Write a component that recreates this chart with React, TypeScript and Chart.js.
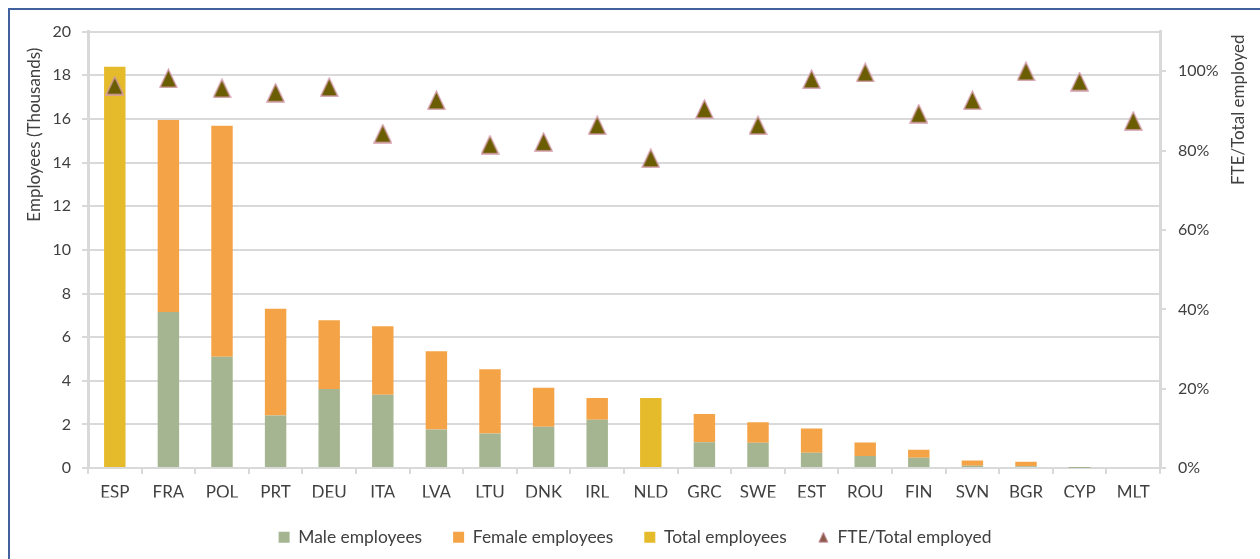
import React, { useEffect, useRef } from "react";
import { Chart, registerables } from "chart.js";
Chart.register(...registerables);

const categories = ["ESP", "FRA", "POL", "PRT", "DEU", "ITA", "LVA", "LTU", "DNK", "IRL", "NLD", "GRC", "SWE", "EST", "ROU", "FIN", "SVN", "BGR", "CYP", "MLT"];
const maleEmployees = [null, 7.15, 5.1, 2.41, 3.63, 3.36, 1.77, 1.58, 1.9, 2.22, null, 1.19, 1.16, 0.7, 0.56, 0.47, 0.11, 0.09, 0.01, 0];
const femaleEmployees = [null, 8.8, 10.59, 4.89, 3.15, 3.14, 3.58, 2.95, 1.78, 0.99, null, 1.29, 0.94, 1.11, 0.61, 0.37, 0.24, 0.2, 0.04, 0];
const totalEmployees = [18.39, null, null, null, null, null, null, null, null, null, 3.21, null, null, null, null, null, null, null, null, null];
const fteRatio = [96.4, 98.2, 95.7, 94.6, 96.0, 84.3, 92.7, 81.5, 82.2, 86.4, 78.1, 90.5, 86.4, 98.0, 99.7, 89.3, 92.7, 100, 97.4, 87.5];
const seriesLabels = ["Male employees", "Female employees", "Total employees", "FTE/Total employed"];
const leftTitle = "Employees (Thousands)";
const rightTitle = "FTE/Total employed";

const TEXT = "#404040";
const GRID = "#d9d9d9";

function makeTriangle(w: number, h: number, fill: string, stroke: string, lw: number) {
  const c = document.createElement("canvas");
  c.width = Math.ceil(w + 2);
  c.height = Math.ceil(h + 2);
  const ctx = c.getContext("2d")!;
  ctx.beginPath();
  ctx.moveTo(c.width / 2, 1);
  ctx.lineTo(c.width - 1, c.height - 1);
  ctx.lineTo(1, c.height - 1);
  ctx.closePath();
  ctx.fillStyle = fill;
  ctx.fill();
  ctx.strokeStyle = stroke;
  ctx.lineWidth = lw;
  ctx.stroke();
  return c;
}

export default function App() {
  const ref = useRef<HTMLCanvasElement | null>(null);
  useEffect(() => {
    if (!ref.current) return;
    Chart.defaults.font.family = "Lato, 'Open Sans', sans-serif";
    const tri = makeTriangle(17, 18, "#6b5d02", "#d49cab", 1.3);
    const legendTri = makeTriangle(9, 10, "#8a5a4a", "#c98a9a", 1);

    const titlesPlugin = {
      id: "axisTitles",
      afterDraw(chart: any) {
        const { ctx, chartArea } = chart;
        ctx.save();
        ctx.fillStyle = TEXT;
        ctx.font = "17px Lato";
        ctx.textBaseline = "middle";
        ctx.textAlign = "right";
        ctx.translate(24.5, chartArea.top + 16);
        ctx.rotate(-Math.PI / 2);
        ctx.fillText(leftTitle, 0, 0);
        ctx.restore();
        ctx.save();
        ctx.fillStyle = TEXT;
        ctx.font = "17px Lato";
        ctx.textBaseline = "middle";
        ctx.textAlign = "right";
        ctx.translate(chartArea.right + 79, chartArea.top + 3);
        ctx.rotate(-Math.PI / 2);
        ctx.fillText(rightTitle, 0, 0);
        ctx.restore();
      },
    };

    const chart = new Chart(ref.current, {
      data: {
        labels: categories,
        datasets: [
          { type: "bar", label: seriesLabels[0], data: maleEmployees, backgroundColor: "#a5b592", stack: "s", yAxisID: "y", order: 1, barPercentage: 0.5, categoryPercentage: 0.8 },
          { type: "bar", label: seriesLabels[1], data: femaleEmployees, backgroundColor: "#f4a446", stack: "s", yAxisID: "y", order: 1, barPercentage: 0.5, categoryPercentage: 0.8 },
          { type: "bar", label: seriesLabels[2], data: totalEmployees, backgroundColor: "#e5ba2b", stack: "s", yAxisID: "y", order: 1, barPercentage: 0.5, categoryPercentage: 0.8 },
          { type: "line", label: seriesLabels[3], data: fteRatio, yAxisID: "y1", showLine: false, order: 0, pointStyle: tri as any, pointRadius: 10, backgroundColor: "#6b5d02", borderColor: "#d49cab" },
        ],
      } as any,
      options: {
        responsive: false,
        animation: false,
        layout: { padding: { top: 20, left: 0, right: 0, bottom: 3 } },
        plugins: {
          tooltip: { enabled: false },
          legend: {
            position: "bottom",
            labels: {
              color: TEXT,
              font: { size: 17.4 },
              usePointStyle: true,
              boxWidth: 11,
              boxHeight: 11,
              padding: 31,
              generateLabels: (ch: any) => {
                const items = (Chart.defaults.plugins.legend.labels as any).generateLabels(ch);
                items.forEach((it: any) => {
                  it.pointStyle = it.datasetIndex === 3 ? legendTri : "rect";
                  it.lineWidth = 0;
                });
                return items.sort((a: any, b: any) => a.datasetIndex - b.datasetIndex);
              },
            },
          },
        },
        scales: {
          x: {
            stacked: true,
            grid: { offset: true, drawOnChartArea: false, color: GRID, lineWidth: 2, tickLength: 6 },
            border: { display: true, color: GRID, width: 2 },
            ticks: { color: TEXT, font: { size: 17 }, padding: 8, maxRotation: 0, autoSkip: false },
            afterFit: (s: any) => { s.height = 29.5; },
          },
          y: {
            stacked: true,
            position: "left",
            min: 0,
            max: 20,
            ticks: { stepSize: 2, color: TEXT, font: { size: 16 }, padding: 11 },
            grid: { color: GRID, lineWidth: 2, tickLength: 6 },
            border: { display: true, color: GRID, width: 3 },
            afterFit: (s: any) => { s.width = 78; },
          },
          y1: {
            position: "right",
            min: 0,
            max: 110,
            ticks: { stepSize: 20, includeBounds: false, color: TEXT, font: { size: 16 }, padding: 12, callback: (v: any) => v + "%" },
            grid: { drawOnChartArea: false, color: GRID, lineWidth: 2, tickLength: 6 },
            border: { display: true, color: GRID, width: 3 },
            afterFit: (s: any) => { s.width = 100; },
          },
        },
      } as any,
      plugins: [titlesPlugin],
    });
    return () => chart.destroy();
  }, []);

  return (
    <div
      style={{
        position: "fixed",
        left: 8,
        top: 8,
        width: 1252,
        height: 551,
        boxSizing: "border-box",
        borderTop: "2px solid #40629e",
        borderLeft: "2px solid #40629e",
        background: "#fff",
      }}
    >
      <canvas ref={ref} width={1250} height={549} style={{ display: "block" }} />
    </div>
  );
}
